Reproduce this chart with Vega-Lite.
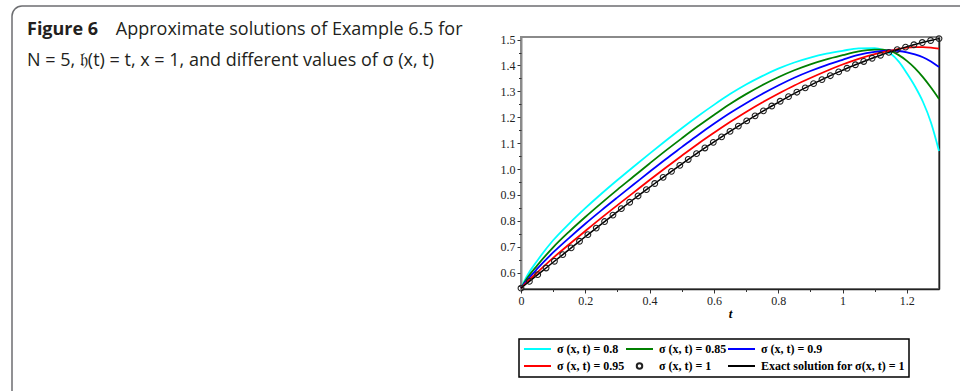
{
  "$schema": "https://vega.github.io/schema/vega-lite/v6.json",
  "width": 418,
  "height": 252,
  "autosize": {"type": "none"},
  "padding": {"left": 521, "top": 37, "right": 21, "bottom": 102},
  "background": "white",
  "title": {
    "text": "Figure 6",
    "subtitle": ["\u200b\u00a0\u00a0\u00a0\u00a0\u00a0\u00a0\u00a0\u00a0\u00a0\u00a0\u00a0\u00a0\u00a0\u00a0\u00a0\u00a0\u00a0\u00a0\u00a0Approximate solutions of Example 6.5 for", "N = 5, 𝔥(t) = t, x = 1, and different values of σ (x, t)"],
    "anchor": "start",
    "frame": "group",
    "orient": "top",
    "dx": -494,
    "offset": -65,
    "font": "Open Sans",
    "fontSize": 18,
    "fontWeight": "bold",
    "color": "#231f20",
    "subtitleFont": "Open Sans",
    "subtitleFontSize": 18,
    "subtitleFontWeight": "normal",
    "subtitleColor": "#231f20",
    "subtitleLineHeight": 31,
    "subtitlePadding": -18
  },
  "datasets": {
    "approx": [
      {"s": "σ (x, t) = 0.8", "t": 0, "u": 0.5403}, {"s": "σ (x, t) = 0.8", "t": 0.02, "u": 0.5903}, {"s": "σ (x, t) = 0.8", "t": 0.05, "u": 0.6453}, {"s": "σ (x, t) = 0.8", "t": 0.1, "u": 0.7251}, {"s": "σ (x, t) = 0.8", "t": 0.15, "u": 0.7897}, {"s": "σ (x, t) = 0.8", "t": 0.2, "u": 0.849}, {"s": "σ (x, t) = 0.8", "t": 0.25, "u": 0.9047}, {"s": "σ (x, t) = 0.8", "t": 0.3, "u": 0.9578}, {"s": "σ (x, t) = 0.8", "t": 0.35, "u": 1.0092}, {"s": "σ (x, t) = 0.8", "t": 0.4, "u": 1.0597}, {"s": "σ (x, t) = 0.8", "t": 0.45, "u": 1.1093}, {"s": "σ (x, t) = 0.8", "t": 0.5, "u": 1.1577}, {"s": "σ (x, t) = 0.8", "t": 0.55, "u": 1.204}, {"s": "σ (x, t) = 0.8", "t": 0.6, "u": 1.2479}, {"s": "σ (x, t) = 0.8", "t": 0.65, "u": 1.2895}, {"s": "σ (x, t) = 0.8", "t": 0.7, "u": 1.3265}, {"s": "σ (x, t) = 0.8", "t": 0.75, "u": 1.3589}, {"s": "σ (x, t) = 0.8", "t": 0.8, "u": 1.3877}, {"s": "σ (x, t) = 0.8", "t": 0.85, "u": 1.4116}, {"s": "σ (x, t) = 0.8", "t": 0.9, "u": 1.4306}, {"s": "σ (x, t) = 0.8", "t": 0.95, "u": 1.4457}, {"s": "σ (x, t) = 0.8", "t": 1.0, "u": 1.4568}, {"s": "σ (x, t) = 0.8", "t": 1.05, "u": 1.4657}, {"s": "σ (x, t) = 0.8", "t": 1.1, "u": 1.4665}, {"s": "σ (x, t) = 0.8", "t": 1.125, "u": 1.46}, {"s": "σ (x, t) = 0.8", "t": 1.15, "u": 1.445}, {"s": "σ (x, t) = 0.8", "t": 1.175, "u": 1.415}, {"s": "σ (x, t) = 0.8", "t": 1.2, "u": 1.37}, {"s": "σ (x, t) = 0.8", "t": 1.225, "u": 1.32}, {"s": "σ (x, t) = 0.8", "t": 1.25, "u": 1.26}, {"s": "σ (x, t) = 0.8", "t": 1.275, "u": 1.18}, {"s": "σ (x, t) = 0.8", "t": 1.3, "u": 1.07},
      {"s": "σ (x, t) = 0.85", "t": 0, "u": 0.5403}, {"s": "σ (x, t) = 0.85", "t": 0.02, "u": 0.5803}, {"s": "σ (x, t) = 0.85", "t": 0.05, "u": 0.6273}, {"s": "σ (x, t) = 0.85", "t": 0.1, "u": 0.6981}, {"s": "σ (x, t) = 0.85", "t": 0.15, "u": 0.7587}, {"s": "σ (x, t) = 0.85", "t": 0.2, "u": 0.815}, {"s": "σ (x, t) = 0.85", "t": 0.25, "u": 0.8687}, {"s": "σ (x, t) = 0.85", "t": 0.3, "u": 0.9208}, {"s": "σ (x, t) = 0.85", "t": 0.35, "u": 0.9712}, {"s": "σ (x, t) = 0.85", "t": 0.4, "u": 1.0217}, {"s": "σ (x, t) = 0.85", "t": 0.45, "u": 1.0713}, {"s": "σ (x, t) = 0.85", "t": 0.5, "u": 1.1187}, {"s": "σ (x, t) = 0.85", "t": 0.55, "u": 1.165}, {"s": "σ (x, t) = 0.85", "t": 0.6, "u": 1.2089}, {"s": "σ (x, t) = 0.85", "t": 0.65, "u": 1.2515}, {"s": "σ (x, t) = 0.85", "t": 0.7, "u": 1.2895}, {"s": "σ (x, t) = 0.85", "t": 0.75, "u": 1.3239}, {"s": "σ (x, t) = 0.85", "t": 0.8, "u": 1.3547}, {"s": "σ (x, t) = 0.85", "t": 0.85, "u": 1.3816}, {"s": "σ (x, t) = 0.85", "t": 0.9, "u": 1.4046}, {"s": "σ (x, t) = 0.85", "t": 0.95, "u": 1.4237}, {"s": "σ (x, t) = 0.85", "t": 1.0, "u": 1.4398}, {"s": "σ (x, t) = 0.85", "t": 1.05, "u": 1.4547}, {"s": "σ (x, t) = 0.85", "t": 1.1, "u": 1.4615}, {"s": "σ (x, t) = 0.85", "t": 1.125, "u": 1.461}, {"s": "σ (x, t) = 0.85", "t": 1.15, "u": 1.455}, {"s": "σ (x, t) = 0.85", "t": 1.175, "u": 1.44}, {"s": "σ (x, t) = 0.85", "t": 1.2, "u": 1.418}, {"s": "σ (x, t) = 0.85", "t": 1.225, "u": 1.39}, {"s": "σ (x, t) = 0.85", "t": 1.25, "u": 1.355}, {"s": "σ (x, t) = 0.85", "t": 1.275, "u": 1.315}, {"s": "σ (x, t) = 0.85", "t": 1.3, "u": 1.271},
      {"s": "σ (x, t) = 0.9", "t": 0, "u": 0.5403}, {"s": "σ (x, t) = 0.9", "t": 0.02, "u": 0.5723}, {"s": "σ (x, t) = 0.9", "t": 0.05, "u": 0.6143}, {"s": "σ (x, t) = 0.9", "t": 0.1, "u": 0.6781}, {"s": "σ (x, t) = 0.9", "t": 0.15, "u": 0.7347}, {"s": "σ (x, t) = 0.9", "t": 0.2, "u": 0.789}, {"s": "σ (x, t) = 0.9", "t": 0.25, "u": 0.8407}, {"s": "σ (x, t) = 0.9", "t": 0.3, "u": 0.8908}, {"s": "σ (x, t) = 0.9", "t": 0.35, "u": 0.9402}, {"s": "σ (x, t) = 0.9", "t": 0.4, "u": 0.9897}, {"s": "σ (x, t) = 0.9", "t": 0.45, "u": 1.0383}, {"s": "σ (x, t) = 0.9", "t": 0.5, "u": 1.0847}, {"s": "σ (x, t) = 0.9", "t": 0.55, "u": 1.131}, {"s": "σ (x, t) = 0.9", "t": 0.6, "u": 1.1749}, {"s": "σ (x, t) = 0.9", "t": 0.65, "u": 1.2165}, {"s": "σ (x, t) = 0.9", "t": 0.7, "u": 1.2545}, {"s": "σ (x, t) = 0.9", "t": 0.75, "u": 1.2899}, {"s": "σ (x, t) = 0.9", "t": 0.8, "u": 1.3227}, {"s": "σ (x, t) = 0.9", "t": 0.85, "u": 1.3526}, {"s": "σ (x, t) = 0.9", "t": 0.9, "u": 1.3786}, {"s": "σ (x, t) = 0.9", "t": 0.95, "u": 1.4017}, {"s": "σ (x, t) = 0.9", "t": 1.0, "u": 1.4218}, {"s": "σ (x, t) = 0.9", "t": 1.05, "u": 1.4407}, {"s": "σ (x, t) = 0.9", "t": 1.1, "u": 1.4525}, {"s": "σ (x, t) = 0.9", "t": 1.125, "u": 1.456}, {"s": "σ (x, t) = 0.9", "t": 1.15, "u": 1.458}, {"s": "σ (x, t) = 0.9", "t": 1.175, "u": 1.456}, {"s": "σ (x, t) = 0.9", "t": 1.2, "u": 1.451}, {"s": "σ (x, t) = 0.9", "t": 1.225, "u": 1.443}, {"s": "σ (x, t) = 0.9", "t": 1.25, "u": 1.432}, {"s": "σ (x, t) = 0.9", "t": 1.275, "u": 1.415}, {"s": "σ (x, t) = 0.9", "t": 1.3, "u": 1.394},
      {"s": "σ (x, t) = 0.95", "t": 0, "u": 0.5403}, {"s": "σ (x, t) = 0.95", "t": 0.02, "u": 0.5653}, {"s": "σ (x, t) = 0.95", "t": 0.05, "u": 0.6003}, {"s": "σ (x, t) = 0.95", "t": 0.1, "u": 0.6571}, {"s": "σ (x, t) = 0.95", "t": 0.15, "u": 0.7097}, {"s": "σ (x, t) = 0.95", "t": 0.2, "u": 0.761}, {"s": "σ (x, t) = 0.95", "t": 0.25, "u": 0.8117}, {"s": "σ (x, t) = 0.95", "t": 0.3, "u": 0.8608}, {"s": "σ (x, t) = 0.95", "t": 0.35, "u": 0.9092}, {"s": "σ (x, t) = 0.95", "t": 0.4, "u": 0.9577}, {"s": "σ (x, t) = 0.95", "t": 0.45, "u": 1.0053}, {"s": "σ (x, t) = 0.95", "t": 0.5, "u": 1.0517}, {"s": "σ (x, t) = 0.95", "t": 0.55, "u": 1.097}, {"s": "σ (x, t) = 0.95", "t": 0.6, "u": 1.1399}, {"s": "σ (x, t) = 0.95", "t": 0.65, "u": 1.1815}, {"s": "σ (x, t) = 0.95", "t": 0.7, "u": 1.2205}, {"s": "σ (x, t) = 0.95", "t": 0.75, "u": 1.2569}, {"s": "σ (x, t) = 0.95", "t": 0.8, "u": 1.2907}, {"s": "σ (x, t) = 0.95", "t": 0.85, "u": 1.3226}, {"s": "σ (x, t) = 0.95", "t": 0.9, "u": 1.3516}, {"s": "σ (x, t) = 0.95", "t": 0.95, "u": 1.3787}, {"s": "σ (x, t) = 0.95", "t": 1.0, "u": 1.4038}, {"s": "σ (x, t) = 0.95", "t": 1.05, "u": 1.4257}, {"s": "σ (x, t) = 0.95", "t": 1.1, "u": 1.4435}, {"s": "σ (x, t) = 0.95", "t": 1.125, "u": 1.451}, {"s": "σ (x, t) = 0.95", "t": 1.15, "u": 1.457}, {"s": "σ (x, t) = 0.95", "t": 1.175, "u": 1.464}, {"s": "σ (x, t) = 0.95", "t": 1.2, "u": 1.469}, {"s": "σ (x, t) = 0.95", "t": 1.225, "u": 1.471}, {"s": "σ (x, t) = 0.95", "t": 1.25, "u": 1.471}, {"s": "σ (x, t) = 0.95", "t": 1.275, "u": 1.469}, {"s": "σ (x, t) = 0.95", "t": 1.3, "u": 1.465}
    ],
    "exact": [
      {"t": 0, "u": 0.5403}, {"t": 0.026, "u": 0.5663}, {"t": 0.052, "u": 0.5923}, {"t": 0.078, "u": 0.6182}, {"t": 0.104, "u": 0.6441}, {"t": 0.13, "u": 0.6699}, {"t": 0.156, "u": 0.6957}, {"t": 0.182, "u": 0.7213}, {"t": 0.208, "u": 0.7468}, {"t": 0.234, "u": 0.7722}, {"t": 0.26, "u": 0.7974}, {"t": 0.286, "u": 0.8224}, {"t": 0.312, "u": 0.8473}, {"t": 0.338, "u": 0.8719}, {"t": 0.364, "u": 0.8963}, {"t": 0.39, "u": 0.9205}, {"t": 0.416, "u": 0.9444}, {"t": 0.442, "u": 0.9681}, {"t": 0.468, "u": 0.9914}, {"t": 0.494, "u": 1.0145}, {"t": 0.52, "u": 1.0372}, {"t": 0.546, "u": 1.0596}, {"t": 0.572, "u": 1.0816}, {"t": 0.598, "u": 1.1033}, {"t": 0.624, "u": 1.1246}, {"t": 0.65, "u": 1.1455}, {"t": 0.676, "u": 1.166}, {"t": 0.702, "u": 1.1861}, {"t": 0.728, "u": 1.2057}, {"t": 0.754, "u": 1.2249}, {"t": 0.78, "u": 1.2436}, {"t": 0.806, "u": 1.2618}, {"t": 0.832, "u": 1.2796}, {"t": 0.858, "u": 1.2969}, {"t": 0.884, "u": 1.3136}, {"t": 0.91, "u": 1.3298}, {"t": 0.936, "u": 1.3455}, {"t": 0.962, "u": 1.3606}, {"t": 0.988, "u": 1.3753}, {"t": 1.014, "u": 1.3894}, {"t": 1.04, "u": 1.4027}, {"t": 1.066, "u": 1.4156}, {"t": 1.092, "u": 1.4279}, {"t": 1.118, "u": 1.4396}, {"t": 1.144, "u": 1.4506}, {"t": 1.17, "u": 1.4611}, {"t": 1.196, "u": 1.4709}, {"t": 1.222, "u": 1.48}, {"t": 1.248, "u": 1.4886}, {"t": 1.274, "u": 1.4964}, {"t": 1.3, "u": 1.5039}
    ]
  },
  "layer": [
    {
      "data": {"name": "approx"},
      "mark": {"type": "line", "strokeWidth": 1.8, "interpolate": "monotone"},
      "encoding": {
        "x": {"field": "t", "type": "quantitative", "scale": {"domain": [0, 1.3], "nice": false, "zero": false},
          "axis": {"orient": "bottom", "values": [0, 0.2, 0.4, 0.6, 0.8, 1, 1.2], "format": "~g", "title": "t", "titleFont": "Liberation Serif", "titleFontStyle": "italic", "titleFontWeight": "bold", "titleFontSize": 13, "titleColor": "#000", "titlePadding": 1, "tickSize": 4, "labelPadding": 2, "domainColor": "#222", "domainWidth": 1.5, "labelFlush": false, "labelOverlap": false, "grid": false}},
        "y": {"field": "u", "type": "quantitative", "scale": {"domain": [0.537, 1.51], "nice": false, "zero": false},
          "axis": {"orient": "left", "values": [0.6, 0.7, 0.8, 0.9, 1.0, 1.1, 1.2, 1.3, 1.4, 1.5], "format": ".1f", "title": null, "tickSize": 4, "labelPadding": 2, "domainColor": "#8a8a8a", "domainWidth": 2, "labelFlush": false, "labelOverlap": false, "grid": false}},
        "color": {"field": "s", "type": "nominal",
          "scale": {"domain": ["σ (x, t) = 0.8", "σ (x, t) = 0.85", "σ (x, t) = 0.9", "σ (x, t) = 0.95", "σ (x, t) = 1", "Exact solution for σ(x, t) = 1"], "range": ["#00ffff", "#008000", "#0000ff", "#ff0000", "#222222", "#000000"]},
          "legend": {"orient": "none", "legendX": -2, "legendY": 302, "columns": 3, "direction": "horizontal", "title": null, "padding": 4, "strokeColor": "#000000", "symbolOffset": 8.5, "labelOffset": 13.5, "symbolSize": 100, "symbolStrokeWidth": 2, "labelFont": "Liberation Serif", "labelFontWeight": "bold", "labelFontSize": 12, "labelColor": "#000000", "columnPadding": -4, "rowPadding": 4, "labelLimit": 400}}
      }
    },
    {
      "data": {"name": "exact"},
      "mark": {"type": "line", "strokeWidth": 1.5, "interpolate": "monotone"},
      "encoding": {
        "x": {"field": "t", "type": "quantitative", "axis": {"orient": "bottom", "values": [0.1, 0.3, 0.5, 0.7, 0.9, 1.1], "labels": false, "domain": false, "tickSize": 2.5, "title": null, "grid": false}},
        "y": {"field": "u", "type": "quantitative", "axis": {"orient": "left", "values": [0.55, 0.65, 0.75, 0.85, 0.95, 1.05, 1.15, 1.25, 1.35, 1.45], "labels": false, "domain": false, "tickSize": 2.5, "title": null, "grid": false}},
        "color": {"datum": "Exact solution for σ(x, t) = 1", "type": "nominal"}
      }
    },
    {
      "data": {"name": "exact"},
      "mark": {"type": "point", "filled": false, "strokeWidth": 1.1, "size": 110, "opacity": 1},
      "encoding": {
        "x": {"field": "t", "type": "quantitative", "axis": null},
        "y": {"field": "u", "type": "quantitative", "axis": {"orient": "right", "labels": false, "ticks": false, "domainColor": "#222", "domainWidth": 1.5, "title": null, "grid": false}},
        "color": {"datum": "σ (x, t) = 1", "type": "nominal"},
        "shape": {"datum": "σ (x, t) = 1", "type": "nominal",
          "scale": {"domain": ["σ (x, t) = 0.8", "σ (x, t) = 0.85", "σ (x, t) = 0.9", "σ (x, t) = 0.95", "σ (x, t) = 1", "Exact solution for σ(x, t) = 1"],
            "range": ["M-2.7,0H2.7", "M-2.7,0H2.7", "M-2.7,0H2.7", "M-2.7,0H2.7", "M0.55,0A0.55,0.55 0 1,1 -0.55,0A0.55,0.55 0 1,1 0.55,0Z", "M-2.7,0H2.7"]}}
      }
    },
    {
      "data": {"values": []},
      "mark": {"type": "rule"},
      "encoding": {
        "strokeDash": {"datum": "frame", "type": "nominal",
          "legend": {"orient": "none", "legendX": -509, "legendY": -31, "padding": 600, "strokeColor": "#6d6e71", "cornerRadius": 10, "fillColor": null, "title": null, "labelExpr": "''", "symbolOpacity": 0}}
      }
    }
  ],
  "resolve": {"axis": {"x": "independent", "y": "independent"}},
  "config": {
    "view": {"stroke": "#8a8a8a", "strokeWidth": 2},
    "axis": {"labelFont": "Liberation Serif", "labelFontSize": 12, "labelColor": "#222222", "tickColor": "#333333", "tickWidth": 1},
    "legend": {"strokeWidth": 1.5}
  }
}
